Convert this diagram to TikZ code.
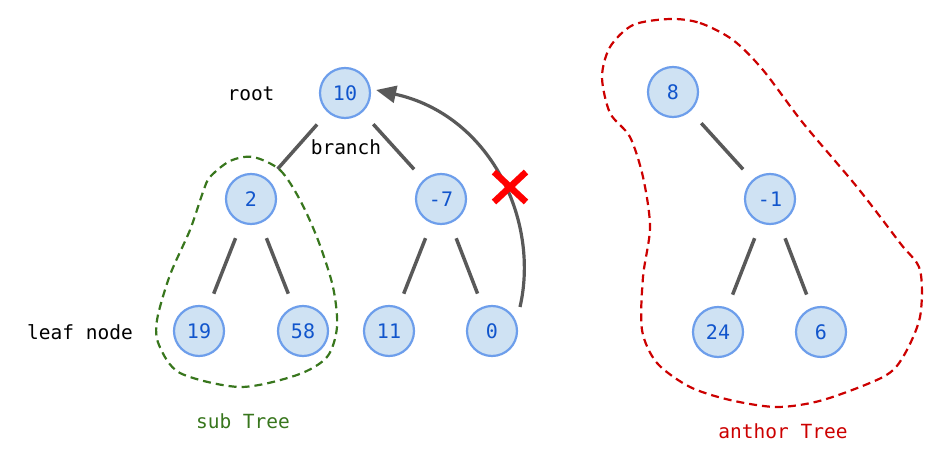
\documentclass[tikz,border=0pt]{standalone}
\usepackage{fontspec}
\setmonofont{DejaVu Sans Mono}
\usetikzlibrary{arrows.meta}
\definecolor{nodefill}{HTML}{CFE2F3}
\definecolor{nodeline}{HTML}{6D9EEB}
\definecolor{nodetext}{HTML}{1155CC}
\definecolor{twiggray}{HTML}{595959}
\definecolor{subgreen}{HTML}{38761D}
\definecolor{otherred}{HTML}{CC0000}
\tikzset{
  num/.style={circle,minimum size=50pt,inner sep=0pt,fill=nodefill,draw=nodeline,line width=2.2pt,text=nodetext,font=\ttfamily\fontsize{20}{20}\selectfont},
  tag/.style={anchor=base,font=\ttfamily\fontsize{19.5}{20}\selectfont},
  twig/.style={twiggray,line width=3.5pt,shorten <=16pt,shorten >=14pt},
  hull/.style={line width=2.2pt,dash pattern=on 8pt off 5pt},
  back/.style={twiggray,line width=3.2pt,-{Triangle[length=20pt,width=17pt]}},
  cross/.style={red,line width=6.5pt}
}
\begin{document}
\begin{tikzpicture}[x=1pt,y=-1pt]
\useasboundingbox(0,0)rectangle(951,465);
%left tree
\node[num](n10)at(345,93){10};
\node[num](n2)at(251,199){2};
\node[num](nm7)at(441,199){-7};
\node[num](n19)at(199,331){19};
\node[num](n58)at(303,331){58};
\node[num](n11)at(389,331){11};
\node[num](n0)at(492,331){0};
%right tree
\node[num](n8)at(673,92){8};
\node[num](nm1)at(770,199){-1};
\node[num](n24)at(718,332){24};
\node[num](n6)at(821,332){6};
%edges
\foreach \a/\b in {n10/n2,n10/nm7,n2/n19,n2/n58,nm7/n11,nm7/n0,n8/nm1,nm1/n24,nm1/n6}
  \draw[twig](\a)--(\b);
%labels
\node[tag](root)at(251,101){root};
\node[tag](branch)at(346,155){branch};
\node[tag](leaf)at(80,339){leaf node};
\node[tag,text=subgreen](subcap)at(243,428){sub Tree};
\node[tag,text=otherred](othercap)at(783,438){anthor Tree};
%outlines
\draw[hull,subgreen]plot[smooth cycle]coordinates{(253,157)(280,170)(300,200)(318,240)(333,287)(337,327)(327,357)(297,375)(240,387)(180,373)(159,345)(157,320)(170,275)(190,230)(203,192)(210,177)(230,161)};
\draw[hull,otherred]plot[smooth cycle]coordinates{(670,19)(700,23)(733,40)(763,70)(803,123)(857,187)(900,243)(920,270)(920,317)(903,357)(883,377)(823,400)(777,407)(730,400)(690,387)(657,363)(642,330)(643,277)(650,227)(643,177)(630,137)(610,113)(602,77)(610,47)(633,25)};
%back link
\coordinate(zeroout)at([shift={(28,-24)}]n0.center);
\draw[back](zeroout)..controls(540,220)and(490,115)..([shift={(5,-3)}]n10.east);
\draw[cross](494,172)--(526,202)(494,202)--(526,172);
\end{tikzpicture}
\end{document}
